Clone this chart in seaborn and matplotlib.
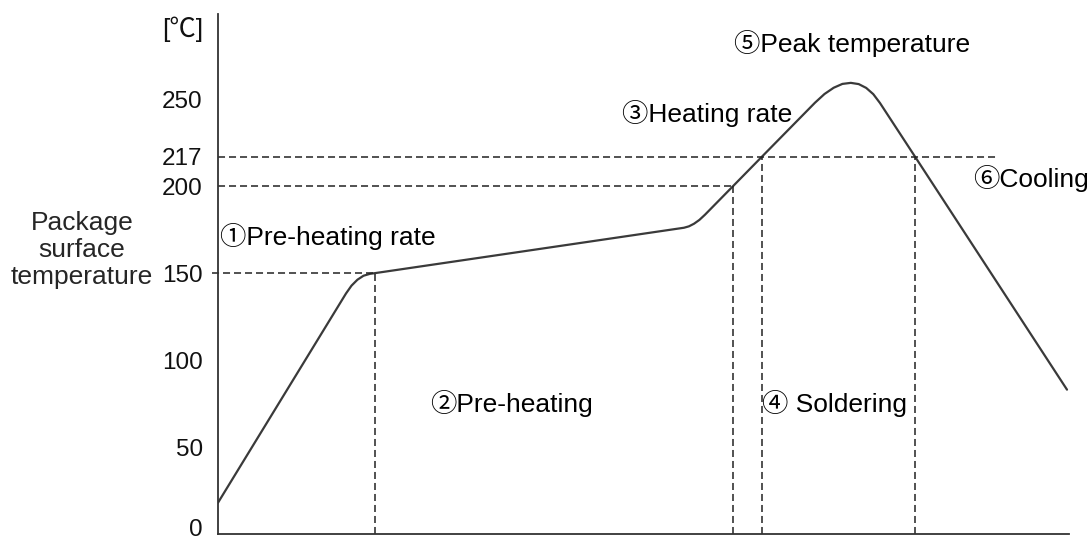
import matplotlib
matplotlib.use('Agg')
import matplotlib.pyplot as plt
from matplotlib import font_manager
from matplotlib.transforms import ScaledTranslation
import seaborn as sns
import pandas as pd


# reflow profile (x: arbitrary time units, y: deg C)
time_pts = [0, 128, 133.5, 139.4, 145.5, 152, 157, 466, 470.9, 476, 481.4, 487,
            515, 544, 597, 606.5, 615.7, 624.4, 632.8, 640.7, 648.2, 655.3, 662,
            697, 849]
temp_pts = [18, 138.3, 142.8, 146.2, 148.5, 149.6, 150, 176.1, 176.9, 178.4, 180.6,
            183.6, 200, 217, 248, 253, 256.6, 258.8, 259.4, 258.7, 256.5, 252.9,
            247.8, 217, 83]

# dashed guide lines
h_levels = [150, 200, 217]
h_start = [-6, 0, 0]
h_end = [157, 515, 779]
v_pos = [157, 515, 544, 697]
v_top = [150, 200, 217, 217]

ytick_vals = [0, 50, 100, 150, 200, 217, 250]
ytick_labels = ['0', '50', '100', '150', '200', '217', '250']

# annotations: text, x, y (baseline)
notes = ['①Pre-heating rate', '②Pre-heating', '③Heating rate',
         '④ Soldering', '⑤Peak temperature', '⑥Cooling']
note_x = [2, 212, 404, 544, 516, 755]
note_y = [166, 70, 237, 70, 277, 199.4]


#==============================================================================
sns.set_style('white')
available = {f.name for f in font_manager.fontManager.ttflist}
narrow = 'Liberation Sans Narrow' if 'Liberation Sans Narrow' in available else 'Liberation Sans'
num_size = 20 if narrow == 'Liberation Sans Narrow' else 17.5
text_fam = ['Liberation Sans', 'Noto Sans CJK JP', 'DejaVu Sans']
plt.rcParams['font.family'] = text_fam

fig = plt.figure(figsize=(10.91, 5.43), dpi=100)
ax = fig.add_axes([218 / 1091, 9 / 543, 851 / 1091, 520 / 543])

df = pd.DataFrame({'time': time_pts, 'temp': temp_pts})
sns.lineplot(data=df, x='time', y='temp', ax=ax, color='#3a3a3a', lw=1.6, sort=False)

dash = (0, (4.6, 2.6))
for lvl, x0, x1 in zip(h_levels, h_start, h_end):
    ax.plot([x0, x1], [lvl, lvl], color='#222222', lw=1.1, ls=dash, clip_on=False)
for xv, top in zip(v_pos, v_top):
    ax.plot([xv, xv], [0, top], color='#222222', lw=1.1, ls=dash)

ax.set_xlim(0, 851)
ax.set_ylim(0, 299)
ax.set_xticks([])
ax.set_yticks(ytick_vals)
ax.set_yticklabels(ytick_labels, family=[narrow, 'DejaVu Sans'], fontsize=num_size)
ax.tick_params(axis='y', direction='in', length=9, width=1.2, pad=11, colors='#111111')
for val, tick in zip(ytick_vals, ax.yaxis.get_major_ticks()):
    if val in (0, 150, 200, 217):
        tick.tick1line.set_visible(False)
    if val == 0:
        lab = tick.label1
        lab.set_transform(lab.get_transform() + ScaledTranslation(0, 5 / 72, fig.dpi_scale_trans))

sns.despine(ax=ax)
for side in ('left', 'bottom'):
    ax.spines[side].set_color('#333333')
    ax.spines[side].set_linewidth(1.3)
ax.set_xlabel('')
ax.set_ylabel('')

for txt, xv, yv in zip(notes, note_x, note_y):
    ax.text(xv, yv, txt, fontsize=19, va='baseline', ha='left', color='black',
            family=text_fam)

ax.text(-15, 290, '[℃]', fontsize=19, ha='right', va='center',
        family=[narrow, 'Noto Sans CJK JP', 'DejaVu Sans'], color='#111111')

fig.text(82 / 1091, 1 - 250 / 543, 'Package\nsurface\ntemperature', fontsize=19,
         ha='center', va='center', multialignment='center', linespacing=1.15,
         family=text_fam)

fig.savefig('out.png', dpi=100)
plt.close()
